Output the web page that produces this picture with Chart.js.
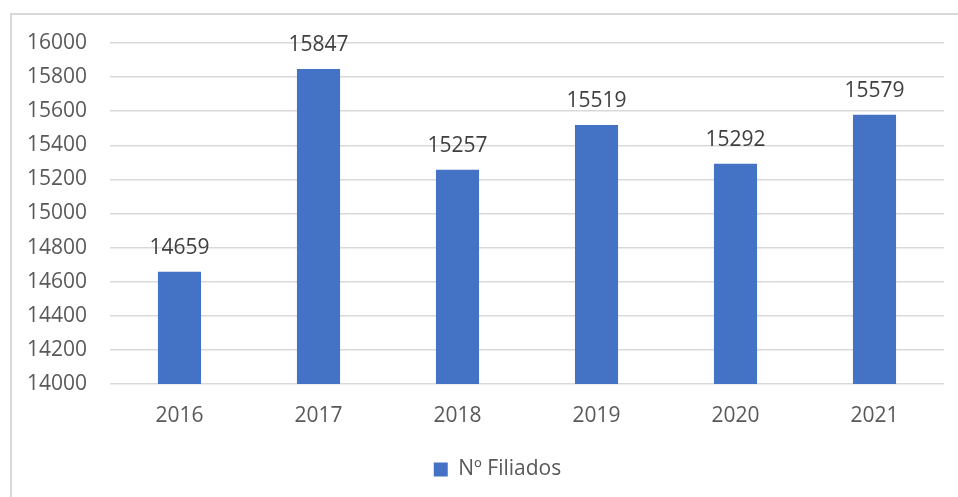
<!DOCTYPE html>
<html>
<head>
<meta charset="utf-8">
<script src="https://cdn.jsdelivr.net/npm/chart.js@4"></script>
<style>
  html, body { margin: 0; padding: 0; width: 958px; height: 497px; overflow: hidden; background: #fff; }
  #frame { position: absolute; left: 10px; top: 13px; width: 1000px; height: 1000px; border: 2px solid #d9d9d9; box-sizing: border-box; }
  #c { position: absolute; left: 0; top: 0; }
</style>
</head>
<body>
<div id="frame"></div>
<canvas id="c" width="958" height="497"></canvas>
<script>
const categories = ['2016', '2017', '2018', '2019', '2020', '2021'];
const seriesName = 'Nº Filiados';
const values = [14659, 15847, 15257, 15519, 15292, 15579];
const yMin = 14000, yMax = 16000, yStep = 200;

const FONT = "'Open Sans', 'DejaVu Sans', sans-serif";

const labelPlugin = {
  id: 'valueLabels',
  afterLayout(chart) {
    if (chart.legend) { chart.legend.left = 51; }
  },
  afterDatasetsDraw(chart) {
    const ctx = chart.ctx;
    const meta = chart.getDatasetMeta(0);
    ctx.save();
    ctx.font = "21px " + FONT;
    ctx.fillStyle = '#404040';
    ctx.textAlign = 'center';
    ctx.textBaseline = 'middle';
    meta.data.forEach((bar, i) => {
      ctx.fillText(String(values[i]), bar.x, bar.y - 24);
    });
    ctx.restore();
  }
};

new Chart(document.getElementById('c'), {
  type: 'bar',
  data: {
    labels: categories,
    datasets: [{
      label: seriesName,
      data: values,
      backgroundColor: '#4472c4',
      borderWidth: 0,
      barPercentage: 0.31,
      categoryPercentage: 1.0
    }]
  },
  options: {
    responsive: false,
    animation: false,
    devicePixelRatio: 1,
    layout: { padding: { top: 43, right: 14, bottom: 7, left: 0 } },
    plugins: {
      legend: {
        position: 'bottom',
        labels: {
          boxWidth: 14, boxHeight: 14, padding: 10,
          color: '#595959',
          font: { family: FONT, size: 21 }
        }
      },
      tooltip: { enabled: false }
    },
    scales: {
      x: {
        grid: { display: false },
        border: { display: false },
        ticks: { color: '#595959', font: { family: FONT, size: 21 }, padding: 11 },
        afterFit(scale) { scale.height = 65; }
      },
      y: {
        min: yMin, max: yMax,
        grid: { color: '#d9d9d9', lineWidth: 1.5, drawTicks: false },
        border: { display: false },
        ticks: { stepSize: yStep, color: '#595959', font: { family: FONT, size: 21 }, padding: 23,
                 callback: (v) => String(v) },
        afterFit(scale) { scale.width = 110; }
      }
    }
  },
  plugins: [labelPlugin]
});
</script>
</body>
</html>
